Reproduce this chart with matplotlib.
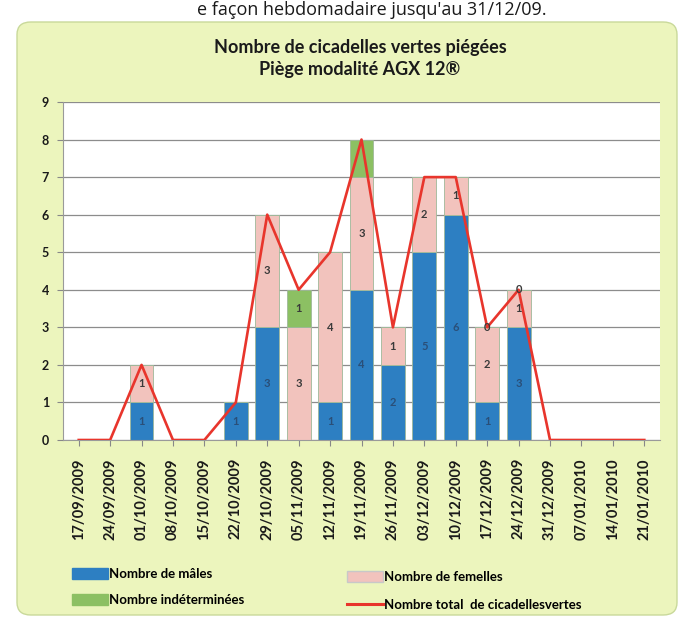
import matplotlib
matplotlib.use("Agg")
import matplotlib.pyplot as plt
from matplotlib.patches import FancyBboxPatch, Patch
from matplotlib.lines import Line2D
import numpy as np

plt.rcParams['font.family'] = ['Lato', 'DejaVu Sans']

dates = ["17/09/2009", "24/09/2009", "01/10/2009", "08/10/2009", "15/10/2009",
         "22/10/2009", "29/10/2009", "05/11/2009", "12/11/2009", "19/11/2009",
         "26/11/2009", "03/12/2009", "10/12/2009", "17/12/2009", "24/12/2009",
         "31/12/2009", "07/01/2010", "14/01/2010", "21/01/2010"]
males = [0, 0, 1, 0, 0, 1, 3, 0, 1, 4, 2, 5, 6, 1, 3, 0, 0, 0, 0]
females = [0, 0, 1, 0, 0, 0, 3, 3, 4, 3, 1, 2, 1, 2, 1, 0, 0, 0, 0]
indet = [0, 0, 0, 0, 0, 0, 0, 1, 0, 1, 0, 0, 0, 0, 0, 0, 0, 0, 0]
total = [0, 0, 2, 0, 0, 1, 6, 4, 5, 8, 3, 7, 7, 3, 4, 0, 0, 0, 0]
indet_labeled_dates = ["05/11/2009"]
zero_label_dates = ["17/12/2009", "24/12/2009"]

c_blue = "#2d7fc2"
c_pink = "#f2c3bd"
c_green = "#8cc063"
c_red = "#e8352c"
c_bg = "#ecf5bd"

fig = plt.figure(figsize=(6.89, 6.27), dpi=100)
fig.patch.set_facecolor("white")

# chart box background
box = FancyBboxPatch((17/689, 1-615/627), (677-17)/689, (615-22)/627,
                     boxstyle="round,pad=0,rounding_size=0.02",
                     transform=fig.transFigure, facecolor=c_bg,
                     edgecolor="#c9d99a", linewidth=1.0, zorder=-10)
fig.patches.append(box)

# page text above the chart
fig.text(372/689, 1-1/627, "e façon hebdomadaire jusqu'au 31/12/09.",
         ha="center", va="top", fontsize=13, family=['Open Sans', 'DejaVu Sans'],
         color="#1a1a1a")

fig.text(360/689, 1-48/627, "Nombre de cicadelles vertes piégées",
         ha="center", va="center", fontsize=13, fontweight="bold", color="#1a1a1a")
fig.text(360/689, 1-70/627, "Piège modalité AGX 12®",
         ha="center", va="center", fontsize=13, fontweight="bold", color="#1a1a1a")

ax = fig.add_axes([63/689, 1-440/627, (660-63)/689, (440-102)/627])
ax.set_zorder(1)
ax.set_facecolor("white")
x = np.arange(len(dates))
w = 0.76
m = np.array(males)
f = np.array(females)
g = np.array(indet)
ax.bar(x, m, w, color=c_blue, edgecolor="#9fb89a", linewidth=0.6, zorder=2)
ax.bar(x, f, w, bottom=m, color=c_pink, edgecolor="#9fb89a", linewidth=0.6, zorder=2)
ax.bar(x, g, w, bottom=m + f, color=c_green, edgecolor="#9fb89a", linewidth=0.6, zorder=2)
ax.plot(x, total, color=c_red, linewidth=1.9, zorder=3)

for i in range(len(dates)):
    if m[i] > 0:
        ax.text(x[i], m[i] / 2, str(m[i]), ha="center", va="center",
                fontsize=8, fontweight="bold", color="#2a4f78", zorder=4)
    if f[i] > 0:
        ax.text(x[i], m[i] + f[i] / 2, str(f[i]), ha="center", va="center",
                fontsize=8, fontweight="bold", color="#3a3a3a", zorder=4)
    if g[i] > 0 and dates[i] in indet_labeled_dates:
        ax.text(x[i], m[i] + f[i] + g[i] / 2, str(g[i]), ha="center", va="center",
                fontsize=8, fontweight="bold", color="#3a3a3a", zorder=4)
    if dates[i] in zero_label_dates:
        ax.text(x[i], m[i] + f[i], "0", ha="center", va="center",
                fontsize=8, fontweight="bold", color="#3a3a3a", zorder=4)

ax.set_xlim(-0.5, len(dates) - 0.5)
ax.set_ylim(0, 9)
ax.set_yticks(range(10))
ax.tick_params(axis="y", length=4, colors="#888888", labelcolor="#1a1a1a", labelsize=9, pad=6)
for lab in ax.get_yticklabels():
    lab.set_fontweight("bold")
ax.set_xticks(x)
ax.set_xticklabels(dates, rotation=90, fontsize=10.5, fontweight="bold", color="#1a1a1a")
ax.tick_params(axis="x", length=4, colors="#888888", labelcolor="#1a1a1a", pad=9)
ax.yaxis.grid(True, color="#8c8c8c", linewidth=0.9, zorder=0)
ax.set_axisbelow(True)
for s in ["top", "right"]:
    ax.spines[s].set_visible(False)
ax.spines["left"].set_color("#9a9a9a")
ax.spines["bottom"].set_color("#9a9a9a")

handles1 = [Patch(facecolor=c_blue, edgecolor=c_blue),
            Patch(facecolor=c_green, edgecolor=c_green)]
labels1 = ["Nombre de mâles", "Nombre indéterminées"]
handles2 = [Patch(facecolor=c_pink, edgecolor="#c8c8c8"),
            Line2D([0], [0], color=c_red, linewidth=2.2)]
labels2 = ["Nombre de femelles", "Nombre total  de cicadellesvertes"]
leg1 = fig.legend(handles1, labels1, loc="center left",
                  bbox_to_anchor=(60/689, 1-587/627), frameon=False,
                  labelspacing=1.1, handlelength=2.7, handleheight=0.9, handletextpad=0.1,
                  prop={'weight': 'bold', 'size': 9.5})
leg2 = fig.legend(handles2, labels2, loc="center left",
                  bbox_to_anchor=(335/689, 1-591/627), frameon=False,
                  labelspacing=1.2, handlelength=2.7, handleheight=0.9, handletextpad=0.1,
                  prop={'weight': 'bold', 'size': 9.5})

fig.savefig("out.png", dpi=100, facecolor="white")
